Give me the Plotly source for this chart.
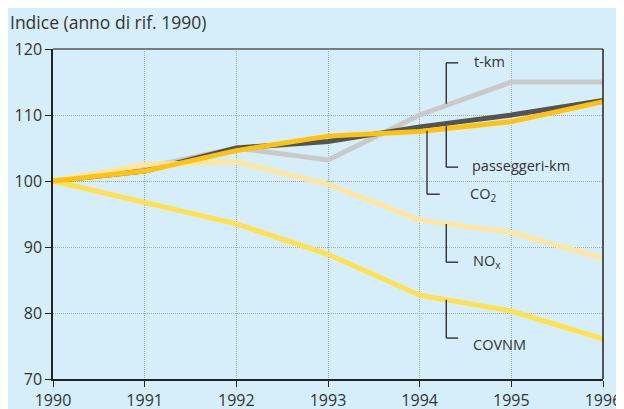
import plotly.graph_objects as go

years = [1990, 1991, 1992, 1993, 1994, 1995, 1996]
tkm = [100, 102, 105, 103.2, 110, 115, 115]
pkm = [100, 101.5, 105, 106, 108.2, 110, 112.2]
co2 = [100, 101.5, 104.6, 106.8, 107.5, 109, 112]
nox = [100, 102.5, 102.9, 99.5, 94.1, 92.2, 88.3]
covnm = [100, 96.7, 93.5, 88.9, 82.7, 80.3, 76.1]

y_ticks = [70, 80, 90, 100, 110, 120]

series = [
    ("t-km", tkm, "#C9C9C9"),
    ("passeggeri-km", pkm, "#545454"),
    ("NOx", nox, "#FFE6A0"),
    ("COVNM", covnm, "#FFE04E"),
    ("CO2", co2, "#FFC20E"),
]

FONT = "Open Sans, sans-serif"

fig = go.Figure()
for name, vals, col in series:
    fig.add_trace(go.Scatter(x=years, y=vals, mode="lines", name=name,
                             line=dict(color=col, width=5), showlegend=False))

# leader brackets: (x_vertical, y_top, y_bottom, x_end, hook_at_top)
brackets = [
    (1994.29, 117.9, 111.7, 1994.42, "top"),
    (1994.29, 108.3, 102.1, 1994.42, "bottom"),
    (1994.08, 107.6, 98.0, 1994.22, "bottom"),
    (1994.29, 93.5, 87.7, 1994.42, "bottom"),
    (1994.29, 82.0, 76.2, 1994.42, "bottom"),
]
for xv, yt, yb, xe, hook in brackets:
    yh = yt if hook == "top" else yb
    fig.add_shape(type="line", x0=xv, x1=xv, y0=yt, y1=yb, line=dict(color="#222", width=1.3))
    fig.add_shape(type="line", x0=xv, x1=xe, y0=yh, y1=yh, line=dict(color="#222", width=1.3))

labels = [
    ("t-km", 1994.57, 118.1),
    ("passeggeri-km", 1994.55, 102.4),
    ("CO<sub>2</sub>", 1994.53, 97.9),
    ("NO<sub>x</sub>", 1994.56, 87.8),
    ("COVNM", 1994.56, 75.2),
]
for txt, x, y in labels:
    fig.add_annotation(x=x, y=y, text=txt, showarrow=False, xanchor="left", yanchor="middle",
                       font=dict(size=14.5, color="#333", family=FONT))

# top and right frame
fig.add_shape(type="line", xref="paper", yref="paper", x0=0, x1=1, y0=1, y1=1,
              line=dict(color="#7A7A7A", width=2))
fig.add_shape(type="line", xref="paper", yref="paper", x0=1, x1=1, y0=0, y1=1,
              line=dict(color="#222", width=1.5))

fig.add_annotation(xref="paper", yref="paper", x=0, xshift=-45, y=1.0, yshift=13,
                   text="Indice (anno di rif. 1990)",
                   showarrow=False, xanchor="left", yanchor="bottom",
                   font=dict(size=17.5, color="#333", family=FONT))

# page body adds an 8px offset; sizes compensate so the plot area lands at 53..603 x 49..379
fig.update_layout(
    width=616, height=401,
    margin=dict(l=45, r=21, t=41, b=30),
    paper_bgcolor="#D6EEF9", plot_bgcolor="#D6EEF9",
    font=dict(family=FONT, size=16, color="#333"),
    xaxis=dict(range=[1990, 1996], tickvals=years, ticktext=[str(y) for y in years],
               automargin=False,
               showgrid=True, gridcolor="#9FAAB2", griddash="1px,1px", gridwidth=1,
               showline=True, linecolor="#222", linewidth=1.5, ticks="outside", ticklen=6,
               tickcolor="#222", zeroline=False, tickfont=dict(size=16, color="#333")),
    yaxis=dict(range=[70, 120], tickvals=y_ticks, automargin=False, showgrid=True, gridcolor="#9FAAB2",
               griddash="1px,1px", gridwidth=1, showline=True, linecolor="#222", linewidth=1.5,
               ticks="outside", ticklen=6, tickcolor="#222", zeroline=False,
               tickfont=dict(size=16, color="#333")),
)

fig.write_html("out.html")
